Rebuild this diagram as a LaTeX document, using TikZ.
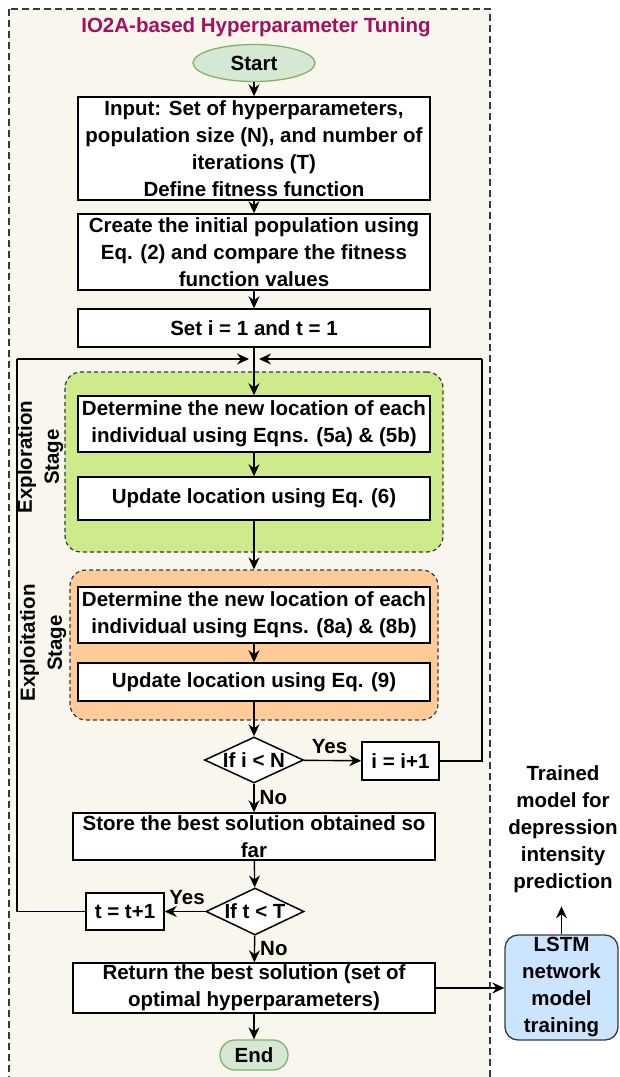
\documentclass[tikz,border=0pt]{standalone}
\usepackage{fontspec}
\setmainfont{Liberation Sans}
\usetikzlibrary{arrows.meta,shapes.geometric,positioning,calc}
\definecolor{framefill}{HTML}{F9F7ED}
\definecolor{framestroke}{HTML}{36393D}
\definecolor{greenreg}{HTML}{CDEB8B}
\definecolor{orangereg}{HTML}{FFCC99}
\definecolor{startfill}{HTML}{D5E8D4}
\definecolor{startstroke}{HTML}{82B366}
\definecolor{lstmfill}{HTML}{CCE5FF}
\definecolor{titlecol}{HTML}{A50F5B}
\begin{document}
\begin{tikzpicture}[x=1pt,y=-1pt,
  every node/.style={font=\fontsize{20.5}{27}\selectfont\bfseries, inner sep=0pt},
  procbox/.style={draw=black, line width=1.5pt, fill=white, minimum width=352pt, align=center},
  decbox/.style={draw=black, line width=1.5pt, fill=white, diamond, aspect=2.1, align=center},
  region/.style={draw=framestroke, line width=1.2pt, dash pattern=on 4pt off 3pt, rounded corners=16pt},
  conn/.style={line width=1.4pt, -{Stealth[length=12pt,width=11pt,inset=4pt]}},
  plainconn/.style={line width=1.4pt},
  lbl/.style={font=\fontsize{20.5}{27}\selectfont\bfseries}
]
\useasboundingbox (0,0) rectangle (619,1077);
\begin{scope}
\clip (0,0) rectangle (619,1077);
\draw[fill=framefill, draw=framestroke, line width=1.5pt, dash pattern=on 7pt off 4pt] (9,9) rectangle (490,1100);
\end{scope}

\node[text=titlecol] (title) at (256,27) {IO2A-based Hyperparameter Tuning};

\node[ellipse, draw=startstroke, fill=startfill, line width=1.3pt, minimum width=122pt, minimum height=37pt] (start) at (254,63) {Start};

\node[procbox, minimum height=103pt] (input) at (254,148.5) {Input: Set of hyperparameters,\\population size (N), and number of\\iterations (T)\\Define fitness function};
\node[procbox, minimum height=76pt] (create) at (254,252) {Create the initial population using\\Eq. (2) and compare the fitness\\function values};
\node[procbox, minimum height=38pt] (set) at (254,328) {Set i = 1 and t = 1};

\node[region, fill=greenreg, minimum width=378pt, minimum height=180pt] (green) at (254,462) {};
\node[region, fill=orangereg, minimum width=368pt, minimum height=150pt] (orange) at (254,645) {};

\node[procbox, minimum height=56pt] (exa) at (254,424) {Determine the new location of each\\individual using Eqns. (5a) \& (5b)};
\node[procbox, minimum height=43pt] (exb) at (254,498.5) {Update location using Eq. (6)};
\node[procbox, minimum height=56pt] (eta) at (254,615) {Determine the new location of each\\individual using Eqns. (8a) \& (8b)};
\node[procbox, minimum height=38pt] (etb) at (254,682) {Update location using Eq. (9)};

\node[rotate=90, align=center] (explbl) at (40,457) {Exploration\\Stage};
\node[rotate=90, align=center] (etlbl) at (43,643) {Exploitation\\Stage};

\node[decbox, minimum width=99pt, minimum height=46pt] (d1) at (254,760) {};
\node (d1t) at (254,760) {If i < N};
\node[procbox, minimum width=77pt, minimum height=38pt] (ib) at (400.5,761) {i = i+1};
\node[procbox, minimum width=362pt, minimum height=47pt] (store) at (254,836.5) {Store the best solution obtained so\\far};
\node[decbox, minimum width=98pt, minimum height=47pt] (d2) at (255,911.5) {};
\node (d2t) at (255,911.5) {If t < T};
\node[procbox, minimum width=78pt, minimum height=37pt] (tb) at (125,911.5) {t = t+1};
\node[procbox, minimum width=362pt, minimum height=50pt] (ret) at (254,988) {Return the best solution (set of\\optimal hyperparameters)};
\node[draw=startstroke, fill=startfill, line width=1.3pt, rounded corners=15pt, minimum width=68pt, minimum height=30pt] (end) at (254,1055) {End};

\node[draw=framestroke, fill=lstmfill, line width=1.3pt, rounded corners=13pt, minimum width=113pt, minimum height=105pt, align=center] (lstm) at (561.5,987.5) {LSTM\\network\\model\\training};
\node[align=center] (trained) at (563,829) {Trained\\model for\\depression\\intensity\\prediction};

\coordinate (merge) at (254,359);
\coordinate (rtop) at (482,359);
\coordinate (ltop) at (17,359);

\draw[conn] (start) -- (input);
\draw[conn] (input) -- (create);
\draw[conn] (create) -- (set);
\draw[conn] (set) -- (exa);
\draw[conn] (exa) -- (exb);
\draw[conn] (exb.south) -- (orange.north);
\draw[conn] (eta) -- (etb);
\draw[conn] (etb) -- (d1);
\draw[conn] (d1) -- node[lbl, above=6pt, pos=0.45] {Yes} (ib);
\draw[conn] (d1) -- node[lbl, right=5pt, pos=0.5] {No} (store);
\draw[conn] (store) -- (d2);
\draw[conn] (d2) -- node[lbl, above=6pt, pos=0.45] {Yes} (tb);
\draw[conn] (d2) -- node[lbl, right=5pt, pos=0.5] {No} (ret);
\draw[conn] (ret) -- (end);
\draw[plainconn] (ib.east) -| (rtop);
\draw[conn, shorten >=5pt] (rtop) -- (merge);
\draw[plainconn] (tb.west) -| (ltop);
\draw[conn, shorten >=5pt] (ltop) -- (merge);
\draw[conn] (ret.east) -- (ret.east -| lstm.west);
\draw[conn] (lstm.north) -- ($(lstm.north)+(0,-28)$);
\end{tikzpicture}
\end{document}
